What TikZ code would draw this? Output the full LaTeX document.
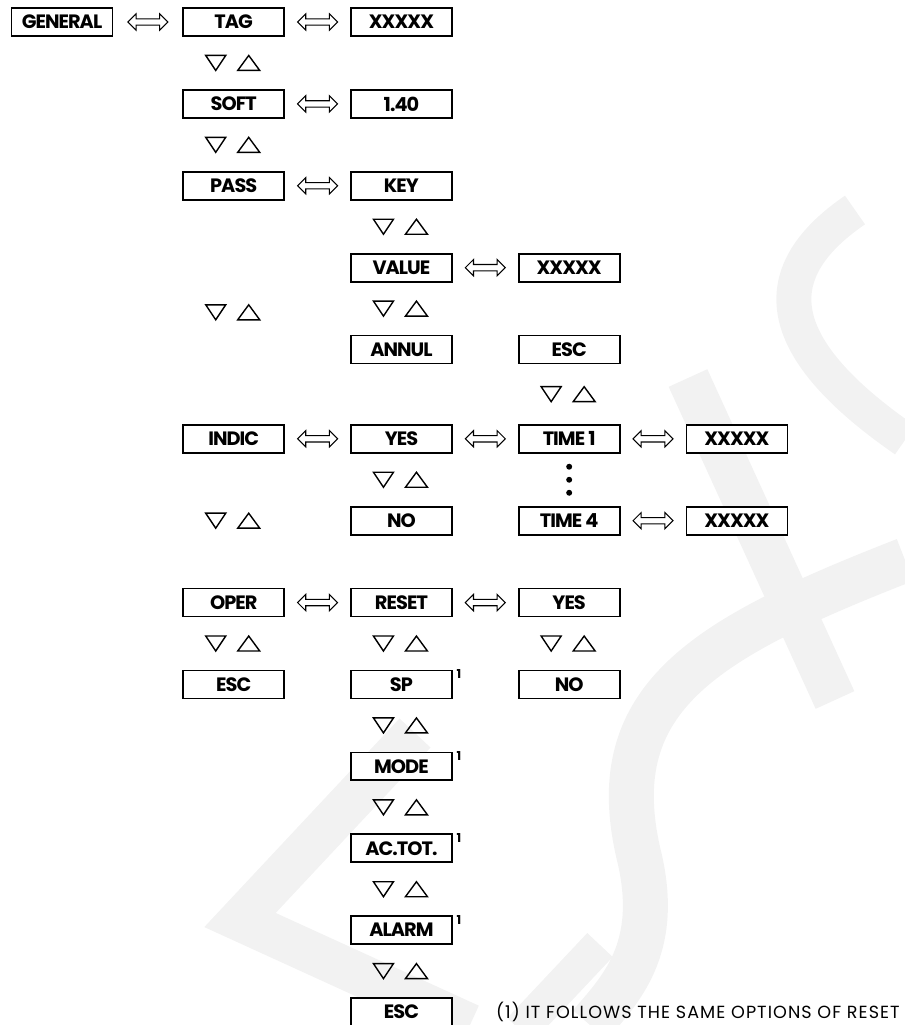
\documentclass[tikz,border=0pt]{standalone}
\usepackage{fontspec}
\newfontfamily\boxfont[LetterSpace=-5]{Poppins}
\newfontfamily\notefont[LetterSpace=6]{Poppins}
\usepackage{tikz}
\usetikzlibrary{positioning,shapes.arrows,calc}

\begin{document}
\begin{tikzpicture}[%
  x=0.02cm,
  y=-0.02cm,
  node distance=1.043cm and 1.3cm,
  menu/.style={
    draw,
    fill=white,
    line width=1pt,
    minimum width=2.02cm,
    minimum height=0.56cm,
    inner sep=0pt,
    font=\boxfont\bfseries\fontsize{11}{12}\selectfont},
  dbl/.style={
    shape=double arrow,
    draw,
    fill=white,
    line width=0.6pt,
    minimum height=0.8cm,
    inner xsep=0pt,
    inner ysep=1.5pt,
    double arrow head extend=0.1cm},
  tri/.style={line width=0.8pt, line join=miter},
  updn/.pic={
    \draw[tri] (-28,-7.5) -- (-8,-7.5) -- (-18,7.5) -- cycle;
    \draw[tri] (4,7.5) -- (26,7.5) -- (15,-7.5) -- cycle;},
  footmark/.style={
    font=\boxfont\bfseries\fontsize{7}{8}\selectfont,
    inner sep=0pt,
    anchor=north west,
    xshift=2pt},
  wm/.style={black!5, line width=0.85cm, line join=miter}
  ]
  \useasboundingbox (0,0) rectangle (905,1025);
  %% Faint logo behind the menu
  \draw[wm, line width=0.7cm] (855,210) .. controls (760,275) and (775,350) .. (905,440);
  \draw[wm] (688,378) -- (835,700);
  \draw[wm, line width=0.9cm] (905,560) .. controls (700,640) and (600,700) .. (640,860)
    .. controls (660,950) and (620,990) .. (590,1025);
  \draw[wm] (415,733) -- (240,920) -- (470,1025);
  \draw[wm, line width=0.7cm] (520,1030) -- (600,945);
  %% Nodes
  \node[menu] (gen) at (62,22) {GENERAL};
  \node[menu, right = 1.38cm of gen] (tag) {TAG};
  \node[menu, right = of tag] (tagval) {XXXXX};
  \node[menu, below = of tag] (soft) {SOFT};
  \node[menu, right = of soft] (softval) {1.40};
  \node[menu, below = of soft] (pass) {PASS};
  \node[menu, right = of pass] (key) {KEY};
  \node[menu, below = of key] (value) {VALUE};
  \node[menu, right = of value] (valx) {XXXXX};
  \node[menu, below = of value] (annul) {ANNUL};
  \node[menu, right = of annul] (esc1) {ESC};
  \node[menu, below = 1.19cm of annul] (yes) {YES};
  \node[menu, left = of yes] (indic) {INDIC};
  \node[menu, right = of yes] (time1) {TIME 1};
  \node[menu, right = of time1] (timex1) {XXXXX};
  \node[menu, below = of yes] (no) {NO};
  \node[menu, below = of time1] (time4) {TIME 4};
  \node[menu, right = of time4] (timex4) {XXXXX};
  \node[menu, below = of no] (reset) {RESET};
  \node[menu, left = of reset] (oper) {OPER};
  \node[menu, right = of reset] (rstyes) {YES};
  \node[menu, below = of oper] (operesc) {ESC};
  \node[menu, below = of reset] (sp) {SP};
  \node[menu, below = of rstyes] (rstno) {NO};
  \node[menu, below = of sp] (mode) {MODE};
  \node[menu, below = of mode] (actot) {AC.TOT.};
  \node[menu, below = of actot] (alarm) {ALARM};
  \node[menu, below = of alarm] (resesc) {ESC};
  %% Footnote marks
  \node[footmark] (fsp) at (sp.north east) {1};
  \node[footmark] (fmode) at (mode.north east) {1};
  \node[footmark] (factot) at (actot.north east) {1};
  \node[footmark] (falarm) at (alarm.north east) {1};
  \node[right = 0.86cm of resesc, inner sep=0pt,
    font=\notefont\fontsize{10}{11}\selectfont] (note)
    {(1) IT FOLLOWS THE SAME OPTIONS OF RESET};
  %% Sideways links
  \path (gen) -- node[dbl] {} (tag);
  \path (tag) -- node[dbl] {} (tagval);
  \path (soft) -- node[dbl] {} (softval);
  \path (pass) -- node[dbl] {} (key);
  \path (value) -- node[dbl] {} (valx);
  \path (indic) -- node[dbl] {} (yes);
  \path (yes) -- node[dbl] {} (time1);
  \path (time1) -- node[dbl] {} (timex1);
  \path (time4) -- node[dbl] {} (timex4);
  \path (oper) -- node[dbl] {} (reset);
  \path (reset) -- node[dbl] {} (rstyes);
  %% Up/down keys
  \pic at ($(tag)!0.5!(soft)$) {updn};
  \pic at ($(soft)!0.5!(pass)$) {updn};
  \pic at ($(key)!0.5!(value)$) {updn};
  \pic at ($(value)!0.5!(annul)$) {updn};
  \pic at ($(pass)!0.5!(indic)$) {updn};
  \pic at ($(esc1)!0.5!(time1)$) {updn};
  \pic at ($(yes)!0.5!(no)$) {updn};
  \pic at (indic |- no) {updn};
  \pic at ($(oper)!0.5!(operesc)$) {updn};
  \pic at ($(reset)!0.5!(sp)$) {updn};
  \pic at ($(rstyes)!0.5!(rstno)$) {updn};
  \pic at ($(sp)!0.5!(mode)$) {updn};
  \pic at ($(mode)!0.5!(actot)$) {updn};
  \pic at ($(actot)!0.5!(alarm)$) {updn};
  \pic at ($(alarm)!0.5!(resesc)$) {updn};
  %% Dots between TIME 1 and TIME 4
  \fill ($(time1.south)!0.25!(time4.north)$) circle (1.7pt);
  \fill ($(time1.south)!0.5!(time4.north)$) circle (1.7pt);
  \fill ($(time1.south)!0.75!(time4.north)$) circle (1.7pt);
\end{tikzpicture}
\end{document}
